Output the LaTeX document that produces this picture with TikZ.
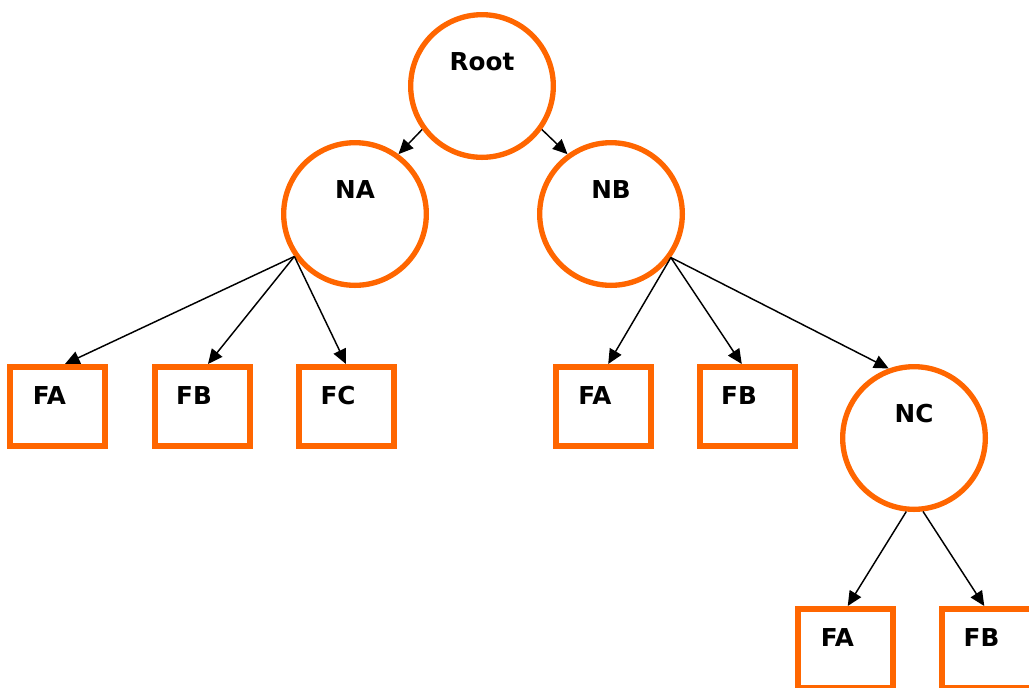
\documentclass[tikz,border=0pt]{standalone}
\usepackage{fontspec}
\setmainfont{DejaVu Sans}
\usetikzlibrary{arrows.meta}
\definecolor{treeorange}{RGB}{255,102,0}

\begin{document}
\begin{tikzpicture}[x=0.75pt,y=-0.75pt,
  treenode/.style={circle,draw=treeorange,line width=4pt,minimum size=107pt,inner sep=0pt,
    font=\fontsize{18.5}{20}\selectfont\bfseries,text height=13.5pt,text depth=37.5pt},
  leafbox/.style={rectangle,draw=treeorange,line width=4.5pt,minimum width=71.25pt,minimum height=59.25pt,inner sep=0pt,
    font=\fontsize{18.5}{20}\selectfont\bfseries,text height=13.5pt,text depth=16pt,
    execute at end node={\hspace*{12pt}}},
  arr/.style={-{Triangle[length=11pt,width=10pt]},line width=1.1pt,black}]
  \useasboundingbox (0,0) rectangle (1029,687);
  % inner nodes
  \node[treenode] (root) at (482,86) {Root};
  \node[treenode] (na) at (355,214) {NA};
  \node[treenode] (nb) at (611,214) {NB};
  \node[treenode] (nc) at (914,438) {NC};
  % leaves
  \node[leafbox] (fa1) at (57.5,406.5) {FA};
  \node[leafbox] (fb1) at (202,406.5) {FB};
  \node[leafbox] (fc1) at (346,406.5) {FC};
  \node[leafbox] (fa2) at (603,406.5) {FA};
  \node[leafbox] (fb2) at (747,406.5) {FB};
  \node[leafbox] (fa3) at (845.5,648.5) {FA};
  \node[leafbox] (fb3) at (989.5,648.5) {FB};
  % connectors
  \draw[arr] (root.-144) -- (na.54);
  \draw[arr] (root.-36) -- (nb.126);
  \draw[arr] (na.-145) -- (fa1.80);
  \draw[arr] (na.-145) -- (fb1.82);
  \draw[arr] (na.-145) -- (fc1.north);
  \draw[arr] (nb.-36) -- (fa2.83);
  \draw[arr] (nb.-36) -- (fb2.97);
  \draw[arr] (nb.-36) -- (nc.110);
  \draw[arr] (nc.-96) -- (fa3.87);
  \draw[arr] (nc.-83) -- (fb3.97);
\end{tikzpicture}
\end{document}
